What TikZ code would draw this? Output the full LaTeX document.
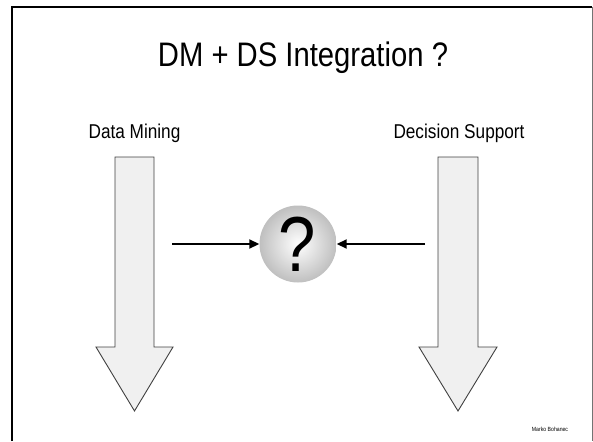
\documentclass[tikz,border=0pt]{standalone}
\usepackage{fontspec}
\setmainfont{Liberation Sans}[FakeStretch=0.86]
\usetikzlibrary{arrows.meta}
\begin{document}
\begin{tikzpicture}[x=1pt,y=-1pt,
  blockarrow/.style={draw=black!75,line width=0.9pt,fill=black!6,line join=miter},
  flowarrow/.style={line width=1.8pt,-{Triangle[length=10pt,width=9pt]}},
  heading/.style={font=\fontsize{34}{36}\selectfont,anchor=base},
  label/.style={font=\fontsize{20}{22}\selectfont,anchor=base},
  qball/.style={circle,minimum size=77pt,inner sep=0pt,
    inner color=white,outer color=black!25}]
\useasboundingbox (0,0) rectangle (593,441);
% slide frame
\draw[black!55,line width=0.8pt] (592,7) -- (592,441);
\draw[black,line width=2pt] (11.5,441) -- (11.5,7) -- (592,7);
% title and column labels
\node[heading] (title) at (303,67) {DM + DS Integration ?};
\node[label] (dm) at (134.5,138) {Data Mining};
\node[label] (ds) at (459,138) {Decision Support};
% two downward block arrows
\draw[blockarrow] (115,157) -- (154,157) -- (154,347) -- (173,347) -- (134.5,411)
  -- (96,347) -- (115,347) -- cycle;
\draw[blockarrow] (438,157) -- (478,157) -- (478,347) -- (497,347) -- (458,411)
  -- (419,347) -- (438,347) -- cycle;
% shaded question ball
\node[qball] (q) at (298,244) {};
\node[font=\fontsize{78}{78}\selectfont,anchor=base] (qm) at (297,271) {?};
% connectors into the ball
\coordinate (lfrom) at (172,244);
\coordinate (rfrom) at (425,244);
\draw[flowarrow] (lfrom) -- (q.west);
\draw[flowarrow] (rfrom) -- (q.east);
% author footer
\node[font=\fontsize{6}{7}\selectfont,anchor=base] (author) at (550,431) {Marko Bohanec};
\end{tikzpicture}
\end{document}
